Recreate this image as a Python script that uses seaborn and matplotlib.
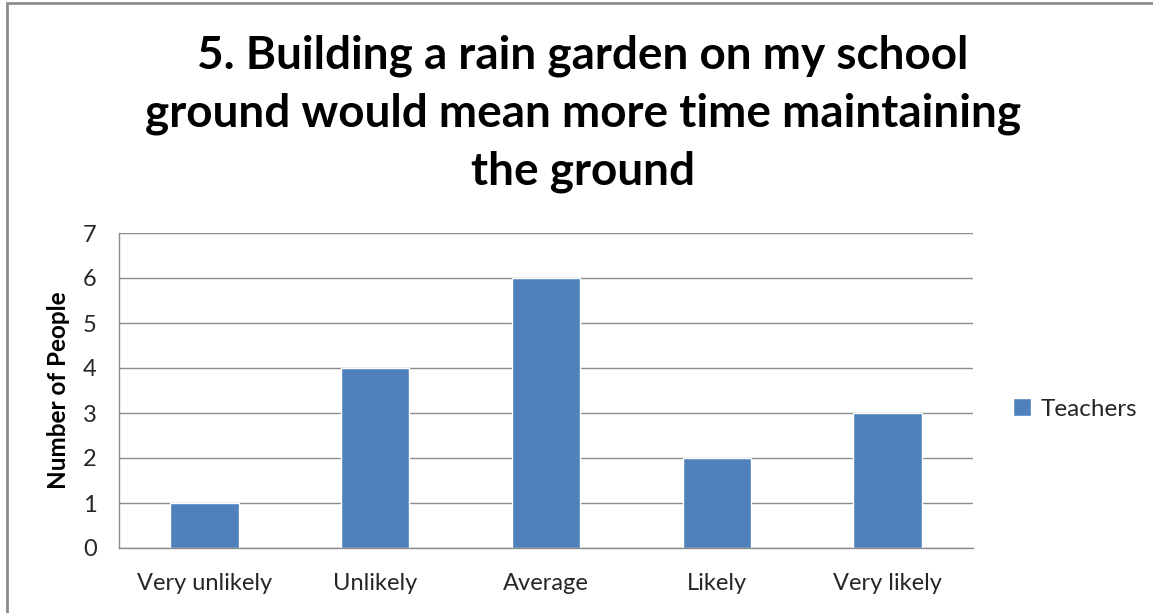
import matplotlib
matplotlib.use("Agg")
import matplotlib.pyplot as plt
from matplotlib.patches import Rectangle
import seaborn as sns
import pandas as pd

categories = ["Very unlikely", "Unlikely", "Average", "Likely", "Very likely"]
teachers = [1, 4, 6, 2, 3]
series_name = "Teachers"
title = "5. Building a rain garden on my school\nground would mean more time maintaining\nthe ground"
y_label = "Number of People"
y_ticks = [0, 1, 2, 3, 4, 5, 6, 7]

df = pd.DataFrame({"response": categories, "count": teachers, "group": series_name})

sns.set_theme(style="white")
plt.rcParams["font.family"] = ["Lato", "DejaVu Sans"]

W, H = 1153, 613
fig = plt.figure(figsize=(W / 100, H / 100), dpi=100)
ax = fig.add_axes([119 / W, 1 - 548 / H, (973 - 119) / W, (548 - 233) / H])

sns.barplot(data=df, x="response", y="count", hue="group", order=categories,
            palette=["#4F81BD"], width=0.4, saturation=1, ax=ax, legend=False)

ax.set_ylim(0, 7)
ax.set_yticks(y_ticks)
ax.set_xlim(-0.5, len(categories) - 0.5)
ax.yaxis.grid(True, color="#8c8c8c", linewidth=1)
ax.set_axisbelow(True)
for side in ["top", "right"]:
    ax.spines[side].set_visible(False)
for side in ["left", "bottom"]:
    ax.spines[side].set_color("#8c8c8c")
    ax.spines[side].set_linewidth(1)
ax.tick_params(axis="both", length=0, labelsize=17, colors="#262626")
ax.tick_params(axis="x", pad=18)
ax.tick_params(axis="y", pad=16)
ax.set_xlabel("")
ax.set_ylabel(y_label, fontsize=17.5, fontweight="bold", color="black")
ax.yaxis.set_label_coords((70 - 119) / (973 - 119), 0.5)

fig.text(583 / W, 1 - 114 / H, title, ha="center", va="center", color="black",
         fontsize=33, fontweight="bold", linespacing=1.45)

handle = Rectangle((0, 0), 1, 1, facecolor="#4F81BD")
fig.legend([handle], [series_name], loc="center left",
           bbox_to_anchor=(1013 / W, 1 - 409 / H), frameon=False,
           fontsize=17.5, handlelength=0.75, handleheight=0.75,
           handletextpad=0.4, borderpad=0, borderaxespad=0)

# chart border
fig.patches.append(Rectangle((7 / W, -0.05), 1.2, 1 - 3 / H + 0.05,
                             transform=fig.transFigure, fill=False,
                             edgecolor="#8c8c8c", linewidth=2))

fig.savefig("out.png", dpi=100)
